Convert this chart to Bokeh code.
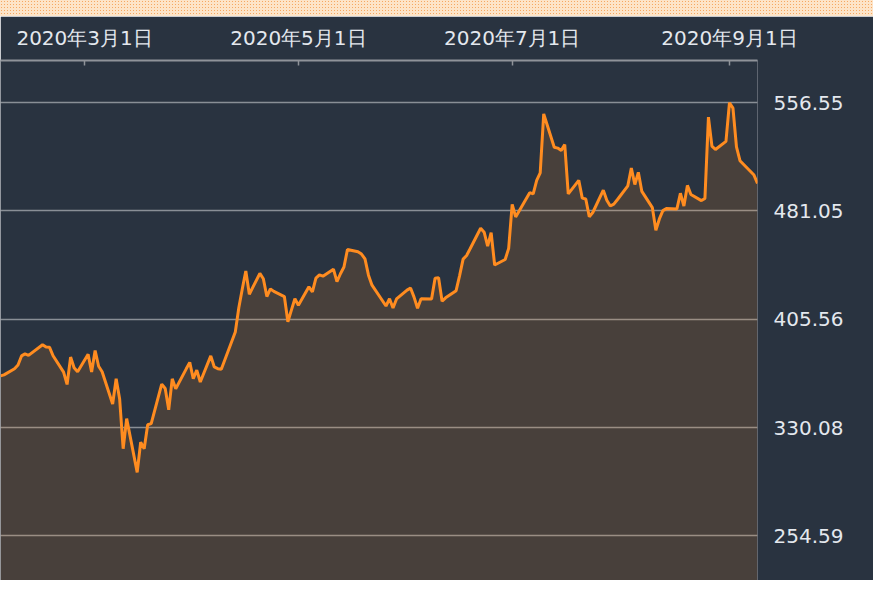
from datetime import datetime
import pandas as pd
from bokeh.plotting import figure
from bokeh.models import FixedTicker, Range1d, Div, ColumnDataSource, PrintfTickFormatter
from bokeh.layouts import column
from bokeh.embed import file_html
from bokeh.resources import INLINE

# ---- data ----
dates = [
    "2020-02-06", "2020-02-07", "2020-02-10", "2020-02-11", "2020-02-12", "2020-02-13", "2020-02-14",
    "2020-02-18", "2020-02-19", "2020-02-20", "2020-02-21", "2020-02-24", "2020-02-25", "2020-02-26",
    "2020-02-27", "2020-02-28", "2020-03-02", "2020-03-03", "2020-03-04", "2020-03-05", "2020-03-06",
    "2020-03-09", "2020-03-10", "2020-03-11", "2020-03-12", "2020-03-13", "2020-03-16", "2020-03-17",
    "2020-03-18", "2020-03-19", "2020-03-20", "2020-03-23", "2020-03-24", "2020-03-25", "2020-03-26",
    "2020-03-27", "2020-03-30", "2020-03-31", "2020-04-01", "2020-04-02", "2020-04-03", "2020-04-06",
    "2020-04-07", "2020-04-08", "2020-04-09", "2020-04-13", "2020-04-14", "2020-04-15", "2020-04-16",
    "2020-04-17", "2020-04-20", "2020-04-21", "2020-04-22", "2020-04-23", "2020-04-24", "2020-04-27",
    "2020-04-28", "2020-04-29", "2020-04-30", "2020-05-01", "2020-05-04", "2020-05-05", "2020-05-06",
    "2020-05-07", "2020-05-08", "2020-05-11", "2020-05-12", "2020-05-13", "2020-05-14", "2020-05-15",
    "2020-05-18", "2020-05-19", "2020-05-20", "2020-05-21", "2020-05-22", "2020-05-26", "2020-05-27",
    "2020-05-28", "2020-05-29", "2020-06-01", "2020-06-02", "2020-06-03", "2020-06-04", "2020-06-05",
    "2020-06-08", "2020-06-09", "2020-06-10", "2020-06-11", "2020-06-12", "2020-06-15", "2020-06-16",
    "2020-06-17", "2020-06-18", "2020-06-19", "2020-06-22", "2020-06-23", "2020-06-24", "2020-06-25",
    "2020-06-26", "2020-06-29", "2020-06-30", "2020-07-01", "2020-07-02", "2020-07-06", "2020-07-07",
    "2020-07-08", "2020-07-09", "2020-07-10", "2020-07-13", "2020-07-14", "2020-07-15", "2020-07-16",
    "2020-07-17", "2020-07-20", "2020-07-21", "2020-07-22", "2020-07-23", "2020-07-24", "2020-07-27",
    "2020-07-28", "2020-07-29", "2020-07-30", "2020-07-31", "2020-08-03", "2020-08-04", "2020-08-05",
    "2020-08-06", "2020-08-07", "2020-08-10", "2020-08-11", "2020-08-12", "2020-08-13", "2020-08-14",
    "2020-08-17", "2020-08-18", "2020-08-19", "2020-08-20", "2020-08-21", "2020-08-24", "2020-08-25",
    "2020-08-26", "2020-08-27", "2020-08-28", "2020-08-31", "2020-09-01", "2020-09-02", "2020-09-03",
    "2020-09-04", "2020-09-08", "2020-09-09",
]
closes = [
    366.1, 366.8, 371.1, 373.7, 380.0, 381.4, 380.4,
    387.8, 386.2, 386.0, 380.1, 368.7, 360.1, 379.2,
    371.7, 369.0, 381.1, 368.8, 383.8, 372.8, 369.0,
    346.5, 364.1, 349.9, 315.3, 336.3, 298.8, 319.8,
    315.3, 332.0, 332.8, 360.3, 357.3, 342.4, 364.0,
    357.1, 371.0, 375.5, 364.1, 370.1, 361.8, 380.0,
    372.3, 371.1, 370.7, 396.7, 413.6, 426.8, 439.2,
    423.0, 437.5, 433.8, 421.4, 426.7, 425.0, 421.4,
    403.8, 411.9, 419.9, 415.3, 428.2, 424.7, 434.3,
    436.5, 435.6, 440.5, 431.8, 437.3, 442.0, 454.2,
    452.6, 451.0, 447.7, 436.3, 429.3, 414.8, 419.9,
    413.4, 419.7, 425.9, 427.3, 421.0, 413.2, 419.9,
    419.6, 434.1, 434.5, 418.1, 420.5, 425.5, 436.0,
    447.5, 450.0, 454.7, 469.0, 466.3, 456.5, 465.9,
    443.4, 447.2, 455.0, 485.6, 476.9, 493.8, 493.0,
    502.4, 507.6, 548.7, 525.5, 524.9, 523.3, 527.4,
    493.0, 502.4, 490.0, 489.4, 477.0, 480.0, 495.6,
    488.5, 484.5, 485.8, 488.9, 498.6, 511.0, 499.5,
    508.0, 494.7, 483.4, 467.6, 475.5, 481.3, 482.7,
    482.4, 493.4, 484.5, 498.9, 492.6, 488.3, 489.8,
    546.5, 526.3, 523.9, 529.6, 556.55, 552.8, 525.8,
    516.1, 506.1, 500.3,
]
tick_dates = ["2020-03-01", "2020-05-01", "2020-07-01", "2020-09-01"]
tick_labels = ["2020年3月1日", "2020年5月1日", "2020年7月1日", "2020年9月1日"]
y_ticks = [254.59, 330.08, 405.56, 481.05, 556.55]

# ---- styling ----
BG = "#293340"
ORANGE = "#ff8c20"
TEXT = "#e4e8ee"
AXIS = "#8f9399"
FONT = "DejaVu Sans"

src = ColumnDataSource(dict(x=pd.to_datetime(dates), y=closes))
tick_ms = [float(pd.Timestamp(d).value // 10**6) for d in tick_dates]

p = figure(
    width=873, height=564,
    x_axis_type="datetime", x_axis_location="above", y_axis_location="right",
    x_range=Range1d(start=datetime(2020, 2, 6), end=datetime(2020, 9, 9)),
    y_range=Range1d(start=223.42, end=585.97),
    output_backend="svg", toolbar_location=None,
    min_border_left=0, min_border_right=116, min_border_top=44, min_border_bottom=0,
    background_fill_color=BG, border_fill_color=BG, outline_line_color=None,
)

p.varea(x="x", y1=0, y2="y", source=src, fill_color=ORANGE, fill_alpha=0.15)
p.line(x="x", y="y", source=src, line_color=ORANGE, line_width=3)

p.xgrid.visible = False
p.ygrid.grid_line_color = "white"
p.ygrid.grid_line_alpha = 0.45
p.ygrid.grid_line_width = 1.5

xa = p.xaxis[0]
xa.ticker = FixedTicker(ticks=tick_ms)
xa.major_label_overrides = dict(zip(tick_ms, tick_labels))
xa.axis_line_color = AXIS
xa.axis_line_width = 2
xa.major_tick_line_color = AXIS
xa.major_tick_line_width = 1.5
xa.major_tick_in = 5
xa.major_tick_out = 0
xa.minor_tick_line_color = None
xa.major_label_standoff = 11
xa.major_label_text_font = FONT
xa.major_label_text_font_size = "20px"
xa.major_label_text_color = TEXT

ya = p.yaxis[0]
ya.ticker = FixedTicker(ticks=y_ticks)
ya.formatter = PrintfTickFormatter(format="%.2f")
ya.axis_line_color = None
ya.major_tick_line_color = None
ya.minor_tick_line_color = None
ya.major_tick_in = 0
ya.major_tick_out = 0
ya.major_label_standoff = 16
ya.major_label_text_font = FONT
ya.major_label_text_font_size = "20px"
ya.major_label_text_color = TEXT

strip = Div(
    text="", width=873, height=16, margin=0,
    styles={
        "background-color": "#fde4c8",
        "background-image": "radial-gradient(#f6a862 45%, transparent 46%)",
        "background-size": "3px 3px",
    },
)

layout = column(strip, p, spacing=0)

open("out.html", "w").write(file_html(layout, INLINE))
